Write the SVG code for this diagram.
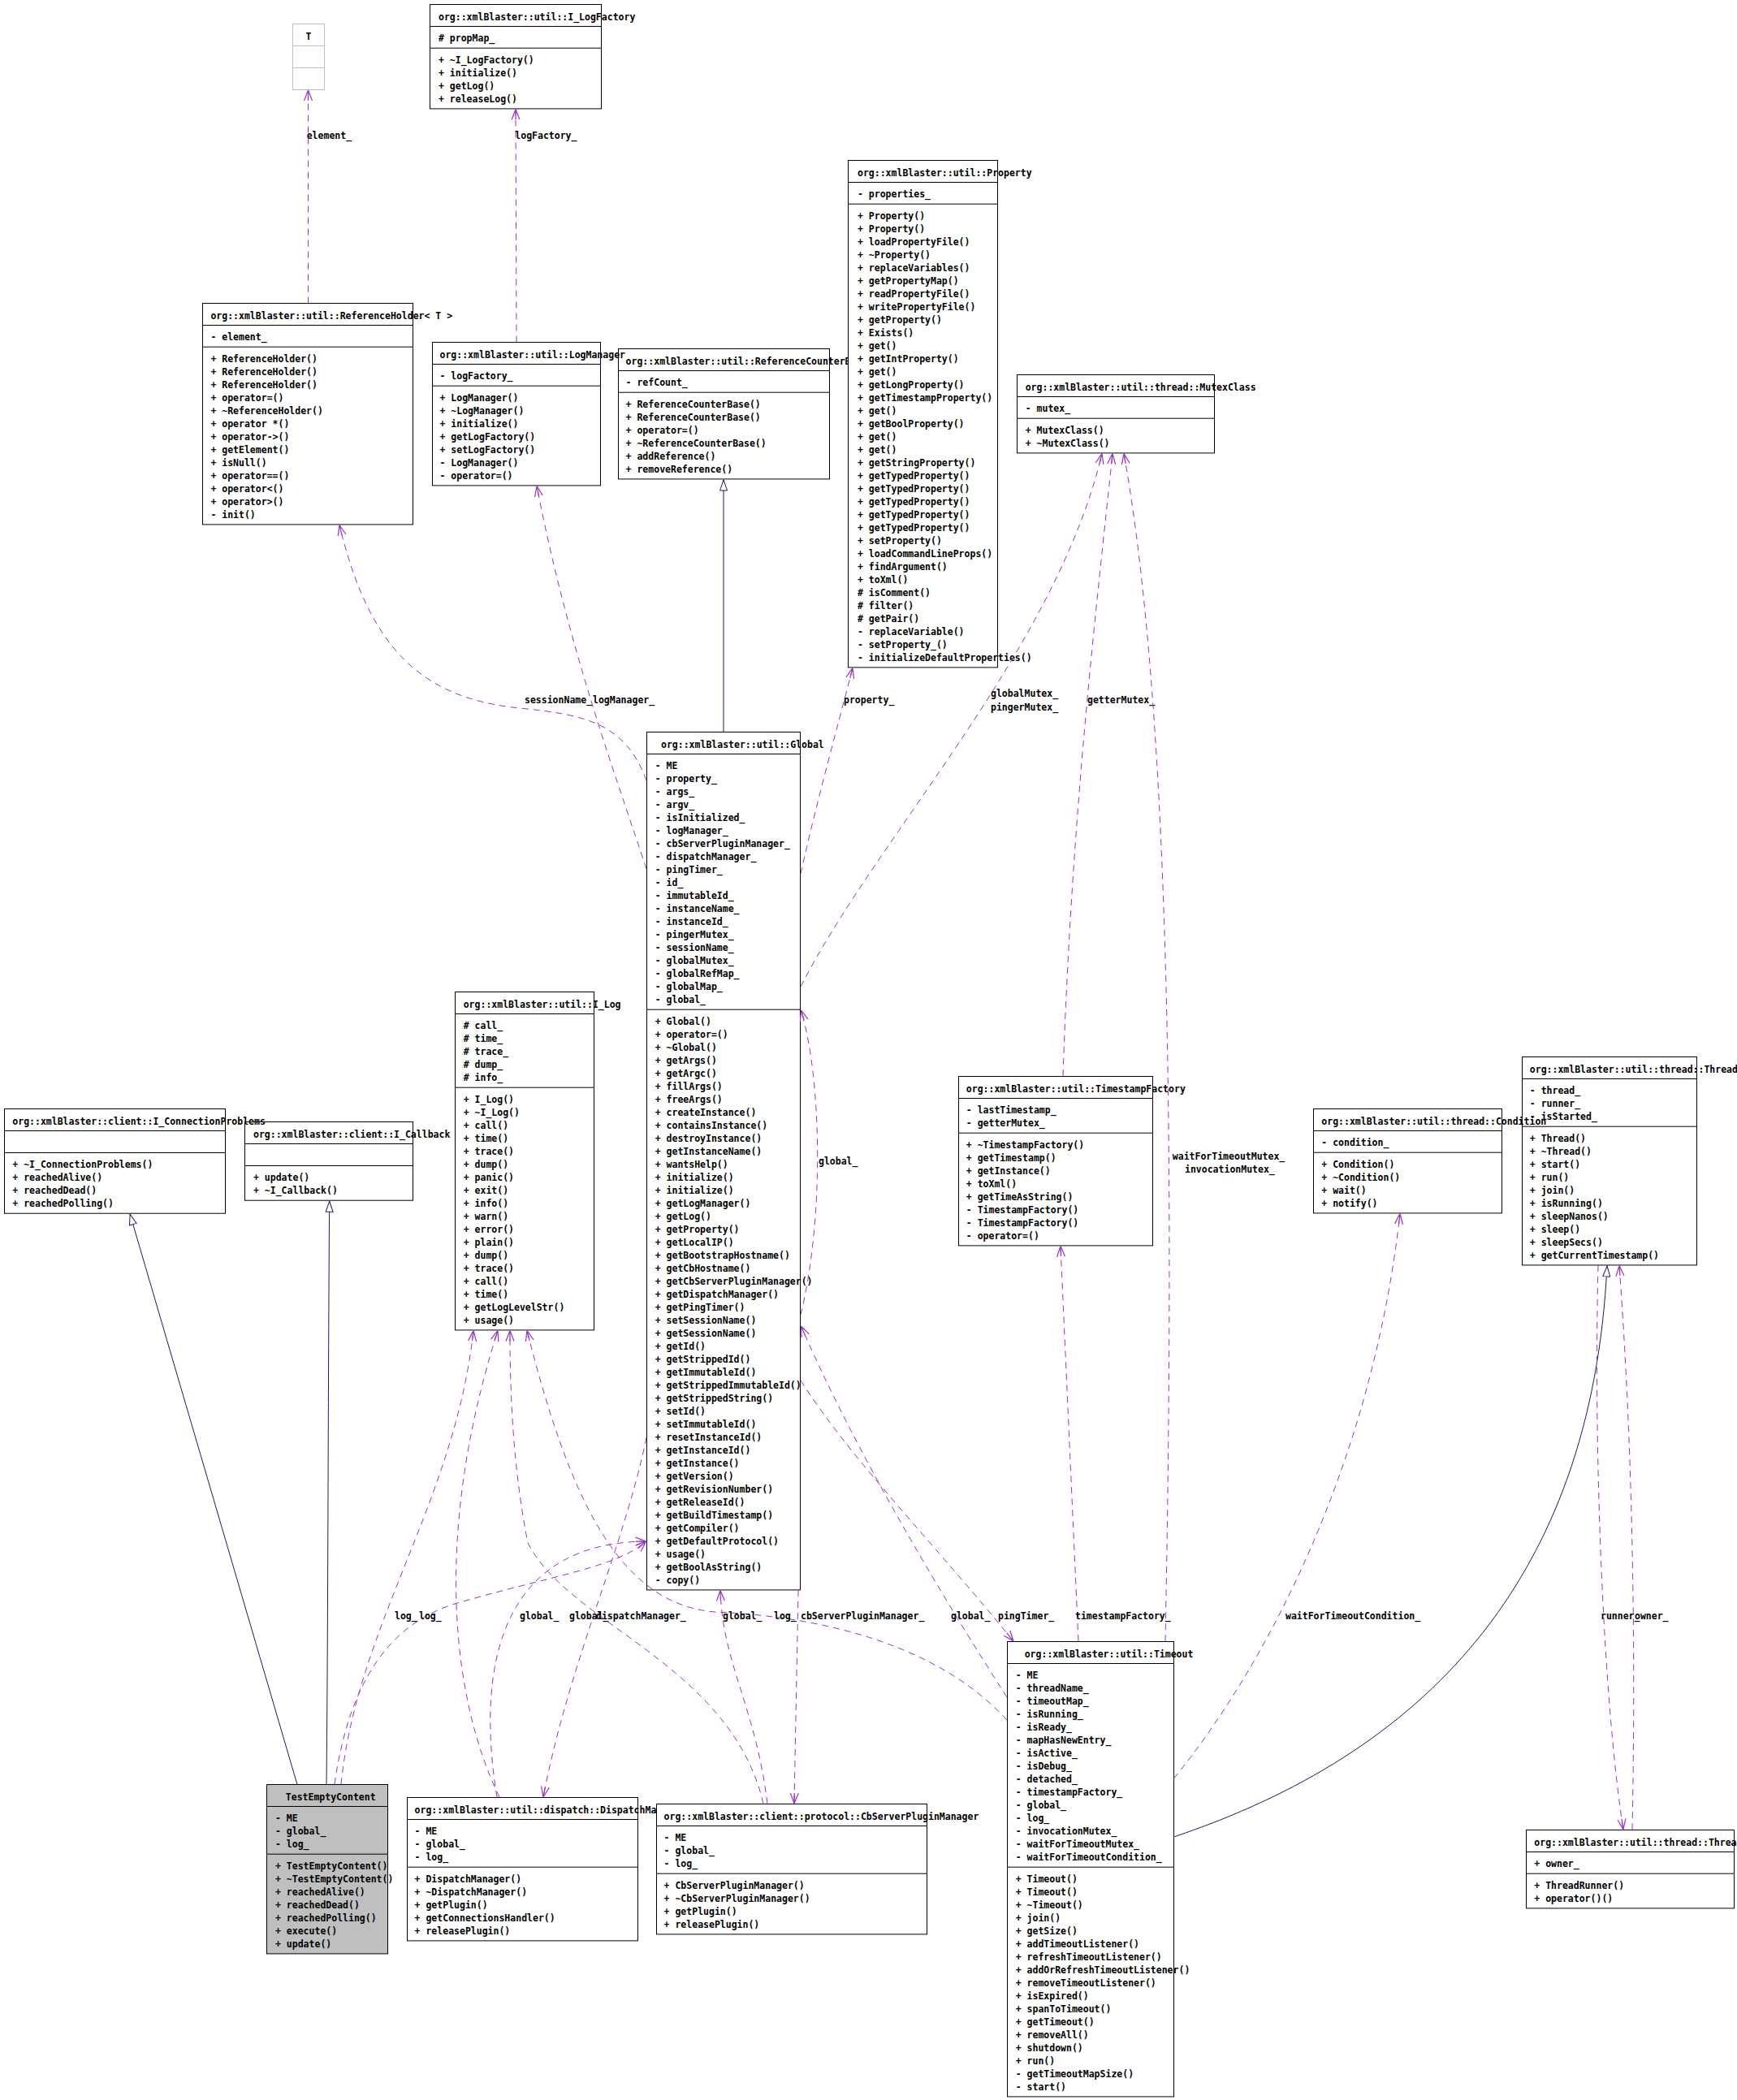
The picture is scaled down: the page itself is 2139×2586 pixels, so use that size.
<svg xmlns="http://www.w3.org/2000/svg" width="2139" height="2586" viewBox="0 0 2139 2586">
<style>
.box{fill:#fff;stroke:#000;stroke-width:1}
.grey{fill:#fff;stroke:#bfbfbf;stroke-width:1}
.dark{fill:#bfbfbf;stroke:#000;stroke-width:1}
.sep{stroke:#000;stroke-width:1}
.sepg{stroke:#bfbfbf;stroke-width:1}
text{font-family:"DejaVu Sans Mono","Liberation Mono",monospace;font-size:11.5px;font-weight:bold;fill:#000}
.use{fill:none;stroke:#9a32cd;stroke-width:1;stroke-dasharray:8,6;marker-end:url(#vee)}
.inh{fill:none;stroke:#191970;stroke-width:1;marker-end:url(#tri)}
</style>
<defs>
<marker id="vee" viewBox="0 0 13 12" refX="13" refY="6" markerWidth="13" markerHeight="12" orient="auto" markerUnits="userSpaceOnUse"><path d="M0,1 L13,6 L0,11 M0,6 L13,6" fill="none" stroke="#9a32cd" stroke-width="1.2"/></marker>
<marker id="tri" viewBox="0 0 14 10" refX="14" refY="5" markerWidth="14" markerHeight="10" orient="auto" markerUnits="userSpaceOnUse"><path d="M0.5,0.5 L13.5,5 L0.5,9.5 Z" fill="#fff" stroke="#191970" stroke-width="1"/></marker>
</defs>
<rect width="2139" height="2586" fill="#fff"/>

<g id="T">
<rect class="grey" x="360.5" y="29.5" width="39" height="81"/>
<line class="sepg" x1="360.5" y1="56.5" x2="399.5" y2="56.5"/>
<line class="sepg" x1="360.5" y1="83.5" x2="399.5" y2="83.5"/>
<text x="380" y="48.5" text-anchor="middle">T</text>
</g>

<g id="I_LogFactory">
<rect class="box" x="529.5" y="5.5" width="211" height="128.4"/>
<line class="sep" x1="529.5" y1="32.5" x2="740.5" y2="32.5"/>
<line class="sep" x1="529.5" y1="59.2" x2="740.5" y2="59.2"/>
<text x="540" y="24.5">org::xmlBlaster::util::I_LogFactory</text>
<text x="540" y="51">#  propMap_</text>
<text x="540" y="77.7">+  ~I_LogFactory()</text>
<text x="540" y="93.7">+  initialize()</text>
<text x="540" y="109.7">+  getLog()</text>
<text x="540" y="125.7">+  releaseLog()</text>
</g>

<g id="ReferenceCounterBase">
<rect class="box" x="761.5" y="429.5" width="260" height="160.4"/>
<line class="sep" x1="761.5" y1="456.5" x2="1021.5" y2="456.5"/>
<line class="sep" x1="761.5" y1="483.2" x2="1021.5" y2="483.2"/>
<text x="770.6" y="448.5">org::xmlBlaster::util::ReferenceCounterBase</text>
<text x="770.6" y="475">-  refCount_</text>
<text x="770.6" y="501.7">+  ReferenceCounterBase()</text>
<text x="770.6" y="517.7">+  ReferenceCounterBase()</text>
<text x="770.6" y="533.7">+  operator=()</text>
<text x="770.6" y="549.7">+  ~ReferenceCounterBase()</text>
<text x="770.6" y="565.7">+  addReference()</text>
<text x="770.6" y="581.7">+  removeReference()</text>
</g>

<g id="ReferenceHolder">
<rect class="box" x="249.5" y="373.5" width="259" height="272.4"/>
<line class="sep" x1="249.5" y1="400.5" x2="508.5" y2="400.5"/>
<line class="sep" x1="249.5" y1="427.2" x2="508.5" y2="427.2"/>
<text x="259.4" y="392.5">org::xmlBlaster::util::ReferenceHolder&lt; T &gt;</text>
<text x="259.4" y="419">-  element_</text>
<text x="259.4" y="445.7">+  ReferenceHolder()</text>
<text x="259.4" y="461.7">+  ReferenceHolder()</text>
<text x="259.4" y="477.7">+  ReferenceHolder()</text>
<text x="259.4" y="493.7">+  operator=()</text>
<text x="259.4" y="509.7">+  ~ReferenceHolder()</text>
<text x="259.4" y="525.7">+  operator *()</text>
<text x="259.4" y="541.7">+  operator-&gt;()</text>
<text x="259.4" y="557.7">+  getElement()</text>
<text x="259.4" y="573.7">+  isNull()</text>
<text x="259.4" y="589.7">+  operator==()</text>
<text x="259.4" y="605.7">+  operator&lt;()</text>
<text x="259.4" y="621.7">+  operator&gt;()</text>
<text x="259.4" y="637.7">-  init()</text>
</g>

<g id="LogManager">
<rect class="box" x="532.5" y="421.5" width="207" height="176.4"/>
<line class="sep" x1="532.5" y1="448.5" x2="739.5" y2="448.5"/>
<line class="sep" x1="532.5" y1="475.2" x2="739.5" y2="475.2"/>
<text x="541.5" y="440.5">org::xmlBlaster::util::LogManager</text>
<text x="541.5" y="467">-  logFactory_</text>
<text x="541.5" y="493.7">+  LogManager()</text>
<text x="541.5" y="509.7">+  ~LogManager()</text>
<text x="541.5" y="525.7">+  initialize()</text>
<text x="541.5" y="541.7">+  getLogFactory()</text>
<text x="541.5" y="557.7">+  setLogFactory()</text>
<text x="541.5" y="573.7">-  LogManager()</text>
<text x="541.5" y="589.7">-  operator=()</text>
</g>

<g id="Property">
<rect class="box" x="1044.5" y="197.5" width="184" height="624.4"/>
<line class="sep" x1="1044.5" y1="224.5" x2="1228.5" y2="224.5"/>
<line class="sep" x1="1044.5" y1="251.2" x2="1228.5" y2="251.2"/>
<text x="1056" y="216.5">org::xmlBlaster::util::Property</text>
<text x="1056" y="243">-  properties_</text>
<text x="1056" y="269.7">+  Property()</text>
<text x="1056" y="285.7">+  Property()</text>
<text x="1056" y="301.7">+  loadPropertyFile()</text>
<text x="1056" y="317.7">+  ~Property()</text>
<text x="1056" y="333.7">+  replaceVariables()</text>
<text x="1056" y="349.7">+  getPropertyMap()</text>
<text x="1056" y="365.7">+  readPropertyFile()</text>
<text x="1056" y="381.7">+  writePropertyFile()</text>
<text x="1056" y="397.7">+  getProperty()</text>
<text x="1056" y="413.7">+  Exists()</text>
<text x="1056" y="429.7">+  get()</text>
<text x="1056" y="445.7">+  getIntProperty()</text>
<text x="1056" y="461.7">+  get()</text>
<text x="1056" y="477.7">+  getLongProperty()</text>
<text x="1056" y="493.7">+  getTimestampProperty()</text>
<text x="1056" y="509.7">+  get()</text>
<text x="1056" y="525.7">+  getBoolProperty()</text>
<text x="1056" y="541.7">+  get()</text>
<text x="1056" y="557.7">+  get()</text>
<text x="1056" y="573.7">+  getStringProperty()</text>
<text x="1056" y="589.7">+  getTypedProperty()</text>
<text x="1056" y="605.7">+  getTypedProperty()</text>
<text x="1056" y="621.7">+  getTypedProperty()</text>
<text x="1056" y="637.7">+  getTypedProperty()</text>
<text x="1056" y="653.7">+  getTypedProperty()</text>
<text x="1056" y="669.7">+  setProperty()</text>
<text x="1056" y="685.7">+  loadCommandLineProps()</text>
<text x="1056" y="701.7">+  findArgument()</text>
<text x="1056" y="717.7">+  toXml()</text>
<text x="1056" y="733.7">#  isComment()</text>
<text x="1056" y="749.7">#  filter()</text>
<text x="1056" y="765.7">#  getPair()</text>
<text x="1056" y="781.7">-  replaceVariable()</text>
<text x="1056" y="797.7">-  setProperty_()</text>
<text x="1056" y="813.7">-  initializeDefaultProperties()</text>
</g>

<g id="MutexClass">
<rect class="box" x="1252.5" y="461.5" width="243" height="96.4"/>
<line class="sep" x1="1252.5" y1="488.5" x2="1495.5" y2="488.5"/>
<line class="sep" x1="1252.5" y1="515.2" x2="1495.5" y2="515.2"/>
<text x="1262.7" y="480.5">org::xmlBlaster::util::thread::MutexClass</text>
<text x="1262.7" y="507">-  mutex_</text>
<text x="1262.7" y="533.7">+  MutexClass()</text>
<text x="1262.7" y="549.7">+  ~MutexClass()</text>
</g>

<g id="Global">
<rect class="box" x="796.5" y="901.5" width="189" height="1056.4"/>
<line class="sep" x1="796.5" y1="928.5" x2="985.5" y2="928.5"/>
<line class="sep" x1="796.5" y1="1243.2" x2="985.5" y2="1243.2"/>
<text x="814" y="920.5">org::xmlBlaster::util::Global</text>
<text x="806.7" y="947">-  ME</text>
<text x="806.7" y="963">-  property_</text>
<text x="806.7" y="979">-  args_</text>
<text x="806.7" y="995">-  argv_</text>
<text x="806.7" y="1011">-  isInitialized_</text>
<text x="806.7" y="1027">-  logManager_</text>
<text x="806.7" y="1043">-  cbServerPluginManager_</text>
<text x="806.7" y="1059">-  dispatchManager_</text>
<text x="806.7" y="1075">-  pingTimer_</text>
<text x="806.7" y="1091">-  id_</text>
<text x="806.7" y="1107">-  immutableId_</text>
<text x="806.7" y="1123">-  instanceName_</text>
<text x="806.7" y="1139">-  instanceId_</text>
<text x="806.7" y="1155">-  pingerMutex_</text>
<text x="806.7" y="1171">-  sessionName_</text>
<text x="806.7" y="1187">-  globalMutex_</text>
<text x="806.7" y="1203">-  globalRefMap_</text>
<text x="806.7" y="1219">-  globalMap_</text>
<text x="806.7" y="1235">-  global_</text>
<text x="806.7" y="1261.7">+  Global()</text>
<text x="806.7" y="1277.7">+  operator=()</text>
<text x="806.7" y="1293.7">+  ~Global()</text>
<text x="806.7" y="1309.7">+  getArgs()</text>
<text x="806.7" y="1325.7">+  getArgc()</text>
<text x="806.7" y="1341.7">+  fillArgs()</text>
<text x="806.7" y="1357.7">+  freeArgs()</text>
<text x="806.7" y="1373.7">+  createInstance()</text>
<text x="806.7" y="1389.7">+  containsInstance()</text>
<text x="806.7" y="1405.7">+  destroyInstance()</text>
<text x="806.7" y="1421.7">+  getInstanceName()</text>
<text x="806.7" y="1437.7">+  wantsHelp()</text>
<text x="806.7" y="1453.7">+  initialize()</text>
<text x="806.7" y="1469.7">+  initialize()</text>
<text x="806.7" y="1485.7">+  getLogManager()</text>
<text x="806.7" y="1501.7">+  getLog()</text>
<text x="806.7" y="1517.7">+  getProperty()</text>
<text x="806.7" y="1533.7">+  getLocalIP()</text>
<text x="806.7" y="1549.7">+  getBootstrapHostname()</text>
<text x="806.7" y="1565.7">+  getCbHostname()</text>
<text x="806.7" y="1581.7">+  getCbServerPluginManager()</text>
<text x="806.7" y="1597.7">+  getDispatchManager()</text>
<text x="806.7" y="1613.7">+  getPingTimer()</text>
<text x="806.7" y="1629.7">+  setSessionName()</text>
<text x="806.7" y="1645.7">+  getSessionName()</text>
<text x="806.7" y="1661.7">+  getId()</text>
<text x="806.7" y="1677.7">+  getStrippedId()</text>
<text x="806.7" y="1693.7">+  getImmutableId()</text>
<text x="806.7" y="1709.7">+  getStrippedImmutableId()</text>
<text x="806.7" y="1725.7">+  getStrippedString()</text>
<text x="806.7" y="1741.7">+  setId()</text>
<text x="806.7" y="1757.7">+  setImmutableId()</text>
<text x="806.7" y="1773.7">+  resetInstanceId()</text>
<text x="806.7" y="1789.7">+  getInstanceId()</text>
<text x="806.7" y="1805.7">+  getInstance()</text>
<text x="806.7" y="1821.7">+  getVersion()</text>
<text x="806.7" y="1837.7">+  getRevisionNumber()</text>
<text x="806.7" y="1853.7">+  getReleaseId()</text>
<text x="806.7" y="1869.7">+  getBuildTimestamp()</text>
<text x="806.7" y="1885.7">+  getCompiler()</text>
<text x="806.7" y="1901.7">+  getDefaultProtocol()</text>
<text x="806.7" y="1917.7">+  usage()</text>
<text x="806.7" y="1933.7">+  getBoolAsString()</text>
<text x="806.7" y="1949.7">-  copy()</text>
</g>

<g id="I_Log">
<rect class="box" x="560.5" y="1221.5" width="171" height="416.4"/>
<line class="sep" x1="560.5" y1="1248.5" x2="731.5" y2="1248.5"/>
<line class="sep" x1="560.5" y1="1339.2" x2="731.5" y2="1339.2"/>
<text x="570.7" y="1240.5">org::xmlBlaster::util::I_Log</text>
<text x="570.7" y="1267">#  call_</text>
<text x="570.7" y="1283">#  time_</text>
<text x="570.7" y="1299">#  trace_</text>
<text x="570.7" y="1315">#  dump_</text>
<text x="570.7" y="1331">#  info_</text>
<text x="570.7" y="1357.7">+  I_Log()</text>
<text x="570.7" y="1373.7">+  ~I_Log()</text>
<text x="570.7" y="1389.7">+  call()</text>
<text x="570.7" y="1405.7">+  time()</text>
<text x="570.7" y="1421.7">+  trace()</text>
<text x="570.7" y="1437.7">+  dump()</text>
<text x="570.7" y="1453.7">+  panic()</text>
<text x="570.7" y="1469.7">+  exit()</text>
<text x="570.7" y="1485.7">+  info()</text>
<text x="570.7" y="1501.7">+  warn()</text>
<text x="570.7" y="1517.7">+  error()</text>
<text x="570.7" y="1533.7">+  plain()</text>
<text x="570.7" y="1549.7">+  dump()</text>
<text x="570.7" y="1565.7">+  trace()</text>
<text x="570.7" y="1581.7">+  call()</text>
<text x="570.7" y="1597.7">+  time()</text>
<text x="570.7" y="1613.7">+  getLogLevelStr()</text>
<text x="570.7" y="1629.7">+  usage()</text>
</g>

<g id="I_Callback">
<rect class="box" x="301.5" y="1381.5" width="207" height="96.7"/>
<line class="sep" x1="301.5" y1="1408.5" x2="508.5" y2="1408.5"/>
<line class="sep" x1="301.5" y1="1435.5" x2="508.5" y2="1435.5"/>
<text x="312" y="1400.5">org::xmlBlaster::client::I_Callback</text>
<text x="312" y="1454">+  update()</text>
<text x="312" y="1470">+  ~I_Callback()</text>
</g>

<g id="I_ConnectionProblems">
<rect class="box" x="5.5" y="1365.5" width="272" height="128.7"/>
<line class="sep" x1="5.5" y1="1392.5" x2="277.5" y2="1392.5"/>
<line class="sep" x1="5.5" y1="1419.5" x2="277.5" y2="1419.5"/>
<text x="15.3" y="1384.5">org::xmlBlaster::client::I_ConnectionProblems</text>
<text x="15.3" y="1438">+  ~I_ConnectionProblems()</text>
<text x="15.3" y="1454">+  reachedAlive()</text>
<text x="15.3" y="1470">+  reachedDead()</text>
<text x="15.3" y="1486">+  reachedPolling()</text>
</g>

<g id="TimestampFactory">
<rect class="box" x="1180.5" y="1325.5" width="239" height="208.4"/>
<line class="sep" x1="1180.5" y1="1352.5" x2="1419.5" y2="1352.5"/>
<line class="sep" x1="1180.5" y1="1395.2" x2="1419.5" y2="1395.2"/>
<text x="1189.8" y="1344.5">org::xmlBlaster::util::TimestampFactory</text>
<text x="1189.8" y="1371">-  lastTimestamp_</text>
<text x="1189.8" y="1387">-  getterMutex_</text>
<text x="1189.8" y="1413.7">+  ~TimestampFactory()</text>
<text x="1189.8" y="1429.7">+  getTimestamp()</text>
<text x="1189.8" y="1445.7">+  getInstance()</text>
<text x="1189.8" y="1461.7">+  toXml()</text>
<text x="1189.8" y="1477.7">+  getTimeAsString()</text>
<text x="1189.8" y="1493.7">-  TimestampFactory()</text>
<text x="1189.8" y="1509.7">-  TimestampFactory()</text>
<text x="1189.8" y="1525.7">-  operator=()</text>
</g>

<g id="Thread">
<rect class="box" x="1874.5" y="1301.5" width="215" height="256.4"/>
<line class="sep" x1="1874.5" y1="1328.5" x2="2089.5" y2="1328.5"/>
<line class="sep" x1="1874.5" y1="1387.2" x2="2089.5" y2="1387.2"/>
<text x="1883.8" y="1320.5">org::xmlBlaster::util::thread::Thread</text>
<text x="1883.8" y="1347">-  thread_</text>
<text x="1883.8" y="1363">-  runner_</text>
<text x="1883.8" y="1379">-  isStarted_</text>
<text x="1883.8" y="1405.7">+  Thread()</text>
<text x="1883.8" y="1421.7">+  ~Thread()</text>
<text x="1883.8" y="1437.7">+  start()</text>
<text x="1883.8" y="1453.7">+  run()</text>
<text x="1883.8" y="1469.7">+  join()</text>
<text x="1883.8" y="1485.7">+  isRunning()</text>
<text x="1883.8" y="1501.7">+  sleepNanos()</text>
<text x="1883.8" y="1517.7">+  sleep()</text>
<text x="1883.8" y="1533.7">+  sleepSecs()</text>
<text x="1883.8" y="1549.7">+  getCurrentTimestamp()</text>
</g>

<g id="Condition">
<rect class="box" x="1617.5" y="1365.5" width="232" height="128.4"/>
<line class="sep" x1="1617.5" y1="1392.5" x2="1849.5" y2="1392.5"/>
<line class="sep" x1="1617.5" y1="1419.2" x2="1849.5" y2="1419.2"/>
<text x="1627.3" y="1384.5">org::xmlBlaster::util::thread::Condition</text>
<text x="1627.3" y="1411">-  condition_</text>
<text x="1627.3" y="1437.7">+  Condition()</text>
<text x="1627.3" y="1453.7">+  ~Condition()</text>
<text x="1627.3" y="1469.7">+  wait()</text>
<text x="1627.3" y="1485.7">+  notify()</text>
</g>

<g id="DispatchManager">
<rect class="box" x="501.5" y="2213.5" width="284" height="176.4"/>
<line class="sep" x1="501.5" y1="2240.5" x2="785.5" y2="2240.5"/>
<line class="sep" x1="501.5" y1="2299.2" x2="785.5" y2="2299.2"/>
<text x="510.6" y="2232.5">org::xmlBlaster::util::dispatch::DispatchManager</text>
<text x="510.6" y="2259">-  ME</text>
<text x="510.6" y="2275">-  global_</text>
<text x="510.6" y="2291">-  log_</text>
<text x="510.6" y="2317.7">+  DispatchManager()</text>
<text x="510.6" y="2333.7">+  ~DispatchManager()</text>
<text x="510.6" y="2349.7">+  getPlugin()</text>
<text x="510.6" y="2365.7">+  getConnectionsHandler()</text>
<text x="510.6" y="2381.7">+  releasePlugin()</text>
</g>

<g id="CbServerPluginManager">
<rect class="box" x="808.5" y="2221.5" width="333" height="160.4"/>
<line class="sep" x1="808.5" y1="2248.5" x2="1141.5" y2="2248.5"/>
<line class="sep" x1="808.5" y1="2307.2" x2="1141.5" y2="2307.2"/>
<text x="817.6" y="2240.5">org::xmlBlaster::client::protocol::CbServerPluginManager</text>
<text x="817.6" y="2267">-  ME</text>
<text x="817.6" y="2283">-  global_</text>
<text x="817.6" y="2299">-  log_</text>
<text x="817.6" y="2325.7">+  CbServerPluginManager()</text>
<text x="817.6" y="2341.7">+  ~CbServerPluginManager()</text>
<text x="817.6" y="2357.7">+  getPlugin()</text>
<text x="817.6" y="2373.7">+  releasePlugin()</text>
</g>

<g id="TestEmptyContent">
<rect class="dark" x="328.5" y="2197.5" width="149" height="208.4"/>
<line class="sep" x1="328.5" y1="2224.5" x2="477.5" y2="2224.5"/>
<line class="sep" x1="328.5" y1="2283.2" x2="477.5" y2="2283.2"/>
<text x="351.8" y="2216.5">TestEmptyContent</text>
<text x="339" y="2243">-  ME</text>
<text x="339" y="2259">-  global_</text>
<text x="339" y="2275">-  log_</text>
<text x="339" y="2301.7">+  TestEmptyContent()</text>
<text x="339" y="2317.7">+  ~TestEmptyContent()</text>
<text x="339" y="2333.7">+  reachedAlive()</text>
<text x="339" y="2349.7">+  reachedDead()</text>
<text x="339" y="2365.7">+  reachedPolling()</text>
<text x="339" y="2381.7">+  execute()</text>
<text x="339" y="2397.7">+  update()</text>
</g>

<g id="Timeout">
<rect class="box" x="1240.5" y="2021.5" width="205" height="560.4"/>
<line class="sep" x1="1240.5" y1="2048.5" x2="1445.5" y2="2048.5"/>
<line class="sep" x1="1240.5" y1="2299.2" x2="1445.5" y2="2299.2"/>
<text x="1261.7" y="2040.5">org::xmlBlaster::util::Timeout</text>
<text x="1250.7" y="2067">-  ME</text>
<text x="1250.7" y="2083">-  threadName_</text>
<text x="1250.7" y="2099">-  timeoutMap_</text>
<text x="1250.7" y="2115">-  isRunning_</text>
<text x="1250.7" y="2131">-  isReady_</text>
<text x="1250.7" y="2147">-  mapHasNewEntry_</text>
<text x="1250.7" y="2163">-  isActive_</text>
<text x="1250.7" y="2179">-  isDebug_</text>
<text x="1250.7" y="2195">-  detached_</text>
<text x="1250.7" y="2211">-  timestampFactory_</text>
<text x="1250.7" y="2227">-  global_</text>
<text x="1250.7" y="2243">-  log_</text>
<text x="1250.7" y="2259">-  invocationMutex_</text>
<text x="1250.7" y="2275">-  waitForTimeoutMutex_</text>
<text x="1250.7" y="2291">-  waitForTimeoutCondition_</text>
<text x="1250.7" y="2317.7">+  Timeout()</text>
<text x="1250.7" y="2333.7">+  Timeout()</text>
<text x="1250.7" y="2349.7">+  ~Timeout()</text>
<text x="1250.7" y="2365.7">+  join()</text>
<text x="1250.7" y="2381.7">+  getSize()</text>
<text x="1250.7" y="2397.7">+  addTimeoutListener()</text>
<text x="1250.7" y="2413.7">+  refreshTimeoutListener()</text>
<text x="1250.7" y="2429.7">+  addOrRefreshTimeoutListener()</text>
<text x="1250.7" y="2445.7">+  removeTimeoutListener()</text>
<text x="1250.7" y="2461.7">+  isExpired()</text>
<text x="1250.7" y="2477.7">+  spanToTimeout()</text>
<text x="1250.7" y="2493.7">+  getTimeout()</text>
<text x="1250.7" y="2509.7">+  removeAll()</text>
<text x="1250.7" y="2525.7">+  shutdown()</text>
<text x="1250.7" y="2541.7">+  run()</text>
<text x="1250.7" y="2557.7">-  getTimeoutMapSize()</text>
<text x="1250.7" y="2573.7">-  start()</text>
</g>

<g id="ThreadRunner">
<rect class="box" x="1879.5" y="2253.5" width="256" height="96.4"/>
<line class="sep" x1="1879.5" y1="2280.5" x2="2135.5" y2="2280.5"/>
<line class="sep" x1="1879.5" y1="2307.2" x2="2135.5" y2="2307.2"/>
<text x="1889.3" y="2272.5">org::xmlBlaster::util::thread::ThreadRunner</text>
<text x="1889.3" y="2299">+  owner_</text>
<text x="1889.3" y="2325.7">+  ThreadRunner()</text>
<text x="1889.3" y="2341.7">+  operator()()</text>
</g>

<g id="connectors">
<path class="use" d="M379.5,373.5 L379.5,111"/>
<text x="377.7" y="171">element_</text>
<path class="use" d="M636,421.5 L635,134.5"/>
<text x="634.3" y="171">logFactory_</text>
<path class="use" d="M796,961 C770,890 720,880 640,872 C520,860 455,800 418,646.5"/>
<text x="646" y="866">sessionName_</text>
<path class="use" d="M796,1070 C760,960 700,800 661,598.5"/>
<text x="730" y="866">logManager_</text>
<path class="inh" d="M891,901.5 L891,590.5"/>
<path class="use" d="M986,1076 C1005,990 1030,900 1050,822.5"/>
<text x="1039" y="866">property_</text>
<path class="use" d="M986,1215 C1080,1030 1300,800 1357,558.5"/>
<text x="1220" y="858">globalMutex_</text>
<text x="1220" y="875">pingerMutex_</text>
<path class="use" d="M1309,1325 C1320,1000 1350,750 1370,558.5"/>
<text x="1339" y="866">getterMutex_</text>
<path class="use" d="M1435,2021 C1445,1500 1445,900 1384,558.5"/>
<text x="1443.8" y="1427.5">waitForTimeoutMutex_</text>
<text x="1459" y="1443.5">invocationMutex_</text>
<path class="use" d="M986,1619 C1015,1500 1012,1330 986.5,1244"/>
<text x="1008" y="1434">global_</text>
<path class="use" d="M1328,2021 L1306,1534.5"/>
<text x="1324" y="1994">timestampFactory_</text>
<path class="use" d="M1445.5,2190 C1560,2050 1690,1800 1724,1494.5"/>
<text x="1583" y="1994">waitForTimeoutCondition_</text>
<path class="inh" d="M1445.5,2262 C1750,2160 1960,1950 1979,1558.5"/>
<path class="use" d="M1968,1558 C1962,1800 1975,2100 1999,2253"/>
<text x="1971" y="1994">runner_</text>
<path class="use" d="M2010,2253 C2014,2050 2012,1800 1994,1558.5"/>
<text x="2013" y="1994">owner_</text>
<path class="inh" d="M366,2197.5 L160,1494.8"/>
<path class="inh" d="M402,2197.5 C404,2000 404,1700 405.7,1478.8"/>
<path class="use" d="M986,1700 C1050,1800 1150,1900 1248,2021"/>
<text x="1229" y="1994">pingTimer_</text>
<path class="use" d="M1240,2090 C1150,1950 1050,1780 986.5,1633"/>
<text x="1171" y="1994">global_</text>
<path class="use" d="M1240,2118 C1150,2020 1000,1990 880,1985 C760,1975 700,1840 649,1638.5"/>
<text x="953" y="1994">log_</text>
<path class="use" d="M796,1770 C770,1900 700,2050 669,2213"/>
<text x="734" y="1994">dispatchManager_</text>
<path class="use" d="M983,1958 L978,2221"/>
<text x="986" y="1994">cbServerPluginManager_</text>
<path class="use" d="M412,2197 C430,2070 480,2000 560,1975 C680,1940 760,1930 795.5,1898"/>
<text x="640" y="1994">global_</text>
<path class="use" d="M420,2197 C440,2000 560,1850 583,1638.5"/>
<text x="486" y="1994">log_</text>
<path class="use" d="M612,2213 C590,2080 600,1900 795.5,1898"/>
<text x="701" y="1994">global_</text>
<path class="use" d="M615,2213 C560,2100 530,1900 613,1638.5"/>
<text x="516" y="1994">log_</text>
<path class="use" d="M945,2221 C930,2100 890,2050 887,1958.5"/>
<text x="890" y="1994">global_</text>
<path class="use" d="M940,2221 C900,2050 700,2000 650,1900 C630,1800 628,1700 628,1638.5"/>
</g>
</svg>
